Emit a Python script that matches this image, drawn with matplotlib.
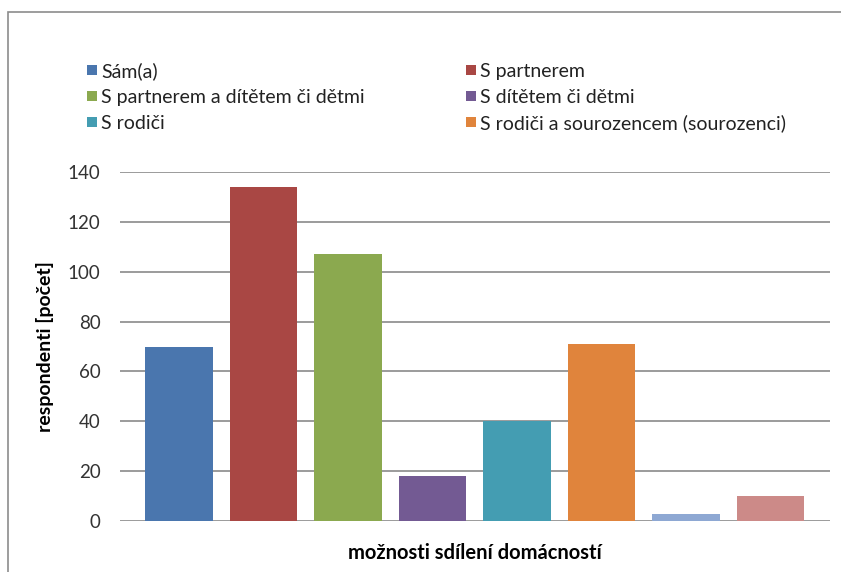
import matplotlib.pyplot as plt
from matplotlib.patches import Rectangle

# household sharing options and respondent counts
categories = ["Sám(a)", "S partnerem", "S partnerem a dítětem či dětmi",
              "S dítětem či dětmi", "S rodiči", "S rodiči a sourozencem (sourozenci)",
              "Jiné", "Ostatní"]
counts = [70, 134, 107, 18, 40, 71, 3, 10]
colors = ["#4A76AE", "#A94744", "#8BA94F", "#735A93", "#449DB2", "#E0843C",
          "#8EA8D3", "#CC8A88"]
yticks = [0, 20, 40, 60, 80, 100, 120, 140]

plt.rcParams['font.family'] = ['Lato', 'DejaVu Sans']

W, H = 841, 572
fig = plt.figure(figsize=(W / 100, H / 100), dpi=100)

# chart frame
fig.patches.append(Rectangle((8 / W, -0.1), 1.0, (H - 12) / H + 0.1,
                             transform=fig.transFigure, fill=False,
                             edgecolor="#8c8c8c", linewidth=1.2))

ax = fig.add_axes([120 / W, 51 / H, 710 / W, 349 / H])
x = list(range(len(counts)))
bars = ax.bar(x, counts, width=0.8, color=colors, zorder=3)

ax.set_xlim(-0.698, 7.704)
ax.set_ylim(0, 140)
ax.set_yticks(yticks)
ax.set_xticks([])
ax.grid(axis='y', color="#8a8a8a", linewidth=1.2, zorder=0)
ax.tick_params(axis='y', length=0, pad=14, labelsize=13.5, labelcolor="#333333")
for s in ax.spines.values():
    s.set_visible(False)

ax.set_ylabel("respondenti [počet]", fontsize=14, fontweight='bold', labelpad=10)
ax.set_xlabel("možnosti sdílení domácností", fontsize=14.5, fontweight='bold', labelpad=16)

# legend for the first six series, two columns filled row by row
col_x = [87, 466]
row_y = [70, 96, 122]
box = 10
for i in range(6):
    px = col_x[i % 2]
    py = row_y[i // 2]
    fig.patches.append(Rectangle((px / W, 1 - (py + box / 2) / H), box / W, box / H,
                                 transform=fig.transFigure,
                                 facecolor=bars[i].get_facecolor(), edgecolor='none'))
    fig.text((px + box + 4) / W, 1 - py / H, categories[i], fontsize=14,
             color="#222222", va='center_baseline', ha='left')

fig.savefig("out.png", dpi=100)
